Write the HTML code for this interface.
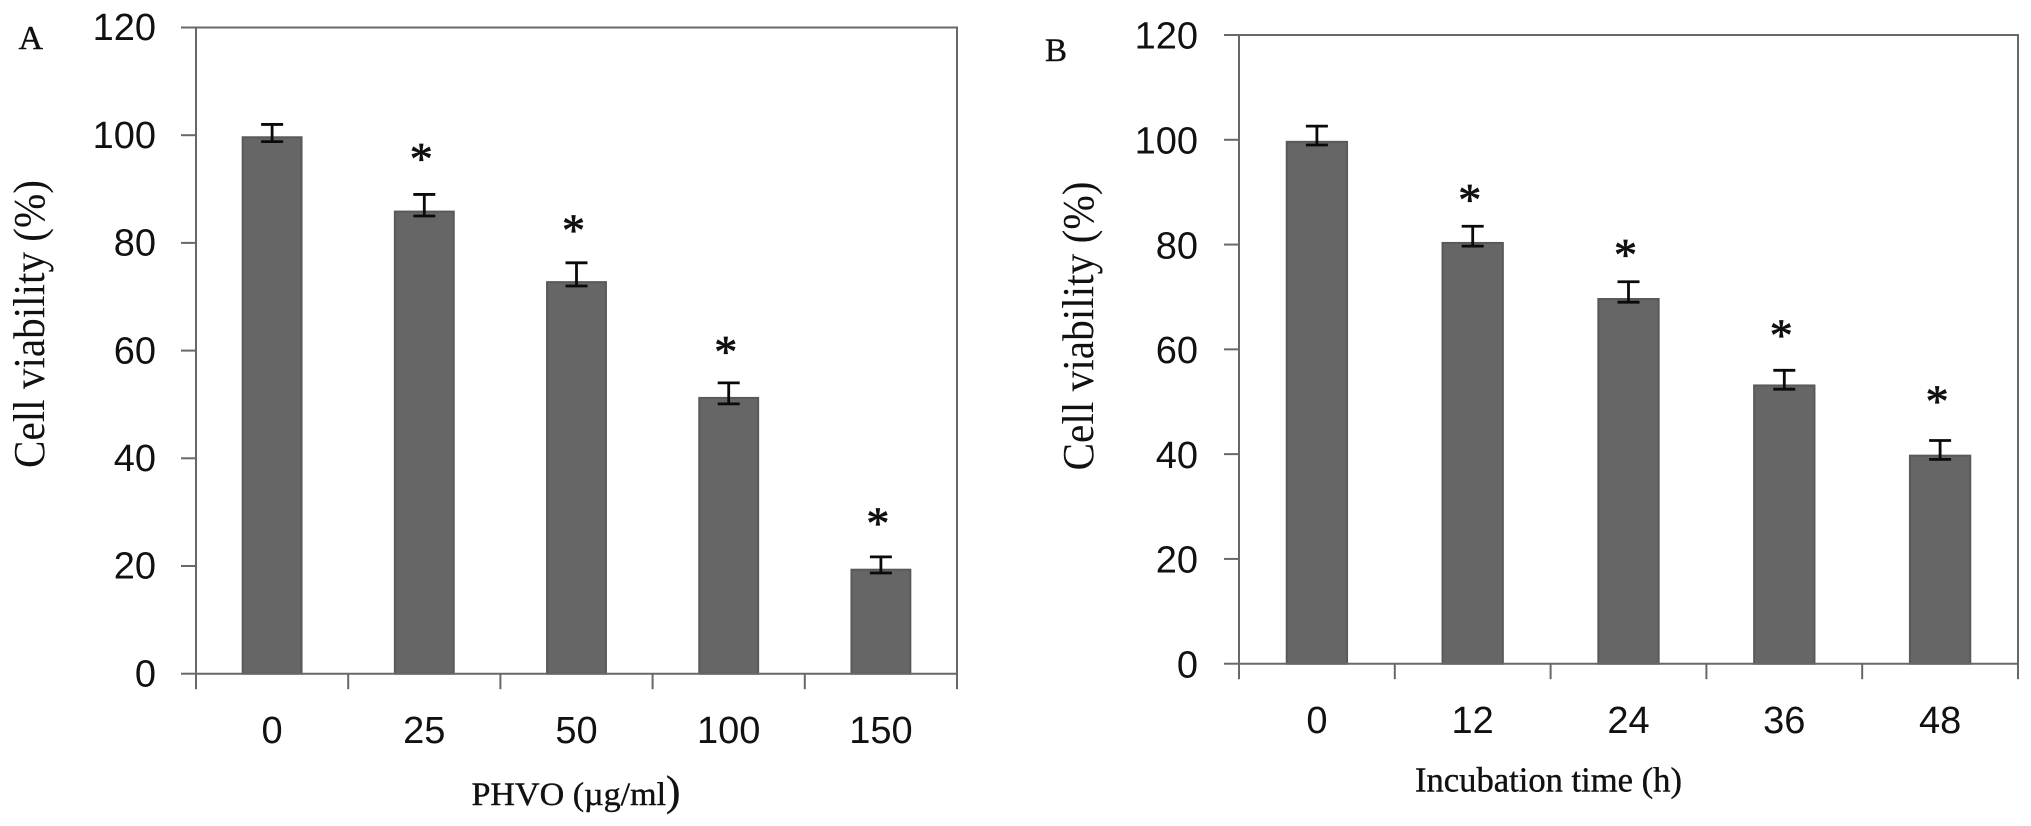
<!DOCTYPE html>
<html lang="en">
<head>
<meta charset="utf-8">
<title>Cell viability charts</title>
<style>
  html, body { margin: 0; padding: 0; background: #fff; }
  body { width: 2031px; height: 826px; overflow: hidden; }
  svg { display: block; }
  .tick-label { font-family: "Liberation Sans", sans-serif; font-size: 38px; fill: #111; }
  .serif { font-family: "Liberation Serif", serif; fill: #111; }
  .heavy { stroke: #111; stroke-width: 0.4px; }
</style>
</head>
<body>
<svg id="figure" xmlns="http://www.w3.org/2000/svg" width="2031" height="826" viewBox="0 0 2031 826">
  <rect x="0" y="0" width="2031" height="826" fill="#fff"/>
  <g id="panel-a"></g>
  <g id="panel-b"></g>
  <text class="serif heavy" x="18.5" y="49" font-size="34">A</text>
  <text class="serif heavy" x="1045" y="61" font-size="33">B</text>
  <text class="serif" transform="translate(44 468) rotate(-90)" font-size="44" textLength="288" lengthAdjust="spacingAndGlyphs">Cell viability (%)</text>
  <text class="serif" transform="translate(1093 470.5) rotate(-90)" font-size="44" textLength="289" lengthAdjust="spacingAndGlyphs">Cell viability (%)</text>
  <text class="serif heavy" x="471.5" y="805" font-size="33" textLength="209" lengthAdjust="spacingAndGlyphs">PHVO (µg/ml<tspan font-size="42">)</tspan></text>
  <text class="serif heavy" x="1415" y="791.5" font-size="35" textLength="267" lengthAdjust="spacingAndGlyphs">Incubation time (h)</text>
</svg>
<script>
const yTickLabels = [0, 20, 40, 60, 80, 100, 120];

const categoriesA = ["0", "25", "50", "100", "150"];
const valuesA = [99.8, 86, 72.9, 51.4, 19.5];
const errorHighA = [102, 89, 76.3, 54, 21.7];
const errorLowA = [98.8, 85, 72, 50.1, 18.7];
const markerLevelA = [null, 96.3, 83, 60.5, 28.6];

const categoriesB = ["0", "12", "24", "36", "48"];
const valuesB = [99.8, 80.5, 69.8, 53.3, 39.9];
const errorHighB = [102.6, 83.5, 72.9, 56, 42.6];
const errorLowB = [99, 79.7, 69, 52.4, 39];
const markerLevelB = [null, 89.3, 78.8, 63.4, 50.8];

const NS = "http://www.w3.org/2000/svg";

function make(tag, attrs, parent) {
  const node = document.createElementNS(NS, tag);
  for (const key in attrs) node.setAttribute(key, attrs[key]);
  parent.appendChild(node);
  return node;
}

function drawPanel(root, frame, categories, values, errorHigh, errorLow, markerLevel) {
  const yMax = yTickLabels[yTickLabels.length - 1];
  const yScale = function (v) {
    return frame.bottom - (v / yMax) * (frame.bottom - frame.top);
  };
  const band = (frame.right - frame.left) / categories.length;
  const xCenter = function (i) {
    return frame.left + band * (i + 0.5);
  };
  const barWidth = band * 0.4;
  const axisColor = "#686868";

  values.forEach(function (v, i) {
    const bar = make("rect", {
      x: xCenter(i) - barWidth / 2 + 1,
      y: yScale(v) + 1,
      width: barWidth - 2,
      height: frame.bottom - yScale(v) - 1,
      fill: "#666666",
      stroke: "#595959",
      "stroke-width": 2
    }, root);
    
    
  });

  const frameBox = make("path", {
    d: "M" + frame.left + " " + frame.bottom +
       "V" + frame.top + "H" + frame.right + "V" + frame.bottom + "H" + frame.left,
    fill: "none",
    stroke: axisColor,
    "stroke-width": 2
  }, root);
  
  

  yTickLabels.forEach(function (t) {
    const y = yScale(t);
    const tick = make("line", {
      x1: frame.left - 15, x2: frame.left, y1: y, y2: y,
      stroke: axisColor, "stroke-width": 2
    }, root);
    
    
    const label = make("text", {
      class: "tick-label",
      x: frame.left - frame.yLabelGap,
      y: y + frame.yLabelDrop,
      "text-anchor": "end"
    }, root);
    label.textContent = String(t);
    
    
  });

  for (let i = 0; i <= categories.length; i++) {
    const x = frame.left + band * i;
    const tick = make("line", {
      x1: x, x2: x, y1: frame.bottom, y2: frame.bottom + 15.5,
      stroke: axisColor, "stroke-width": 2
    }, root);
    
    
  }

  categories.forEach(function (c, i) {
    const label = make("text", {
      class: "tick-label",
      x: xCenter(i),
      y: frame.xLabelBaseline,
      "text-anchor": "middle"
    }, root);
    label.textContent = c;
    
    

    const capHalf = 11;
    const hi = yScale(errorHigh[i]);
    const lo = yScale(errorLow[i]);
    const err = make("path", {
      d: "M" + (xCenter(i) - capHalf) + " " + hi + "H" + (xCenter(i) + capHalf) +
         "M" + xCenter(i) + " " + hi + "V" + lo +
         "M" + (xCenter(i) - capHalf) + " " + lo + "H" + (xCenter(i) + capHalf),
      fill: "none",
      stroke: "#0a0a0a",
      "stroke-width": 2.8
    }, root);
    
    

    if (markerLevel[i] !== null) {
      const star = make("text", {
        class: "serif",
        x: xCenter(i) - 3,
        y: yScale(markerLevel[i]) + 19,
        "font-size": 46,
        "text-anchor": "middle",
        stroke: "#111",
        "stroke-width": 0.8
      }, root);
      star.textContent = "*";
      
      
    }
  });
}

drawPanel(
  document.getElementById("panel-a"),
  { left: 196, right: 957, top: 27.5, bottom: 673.7, yLabelGap: 40, yLabelDrop: 12.7, xLabelBaseline: 743 },
  categoriesA, valuesA, errorHighA, errorLowA, markerLevelA
);
drawPanel(
  document.getElementById("panel-b"),
  { left: 1239, right: 2018, top: 35, bottom: 663.7, yLabelGap: 41, yLabelDrop: 13.7, xLabelBaseline: 733 },
  categoriesB, valuesB, errorHighB, errorLowB, markerLevelB
);
</script>
</body>
</html>
